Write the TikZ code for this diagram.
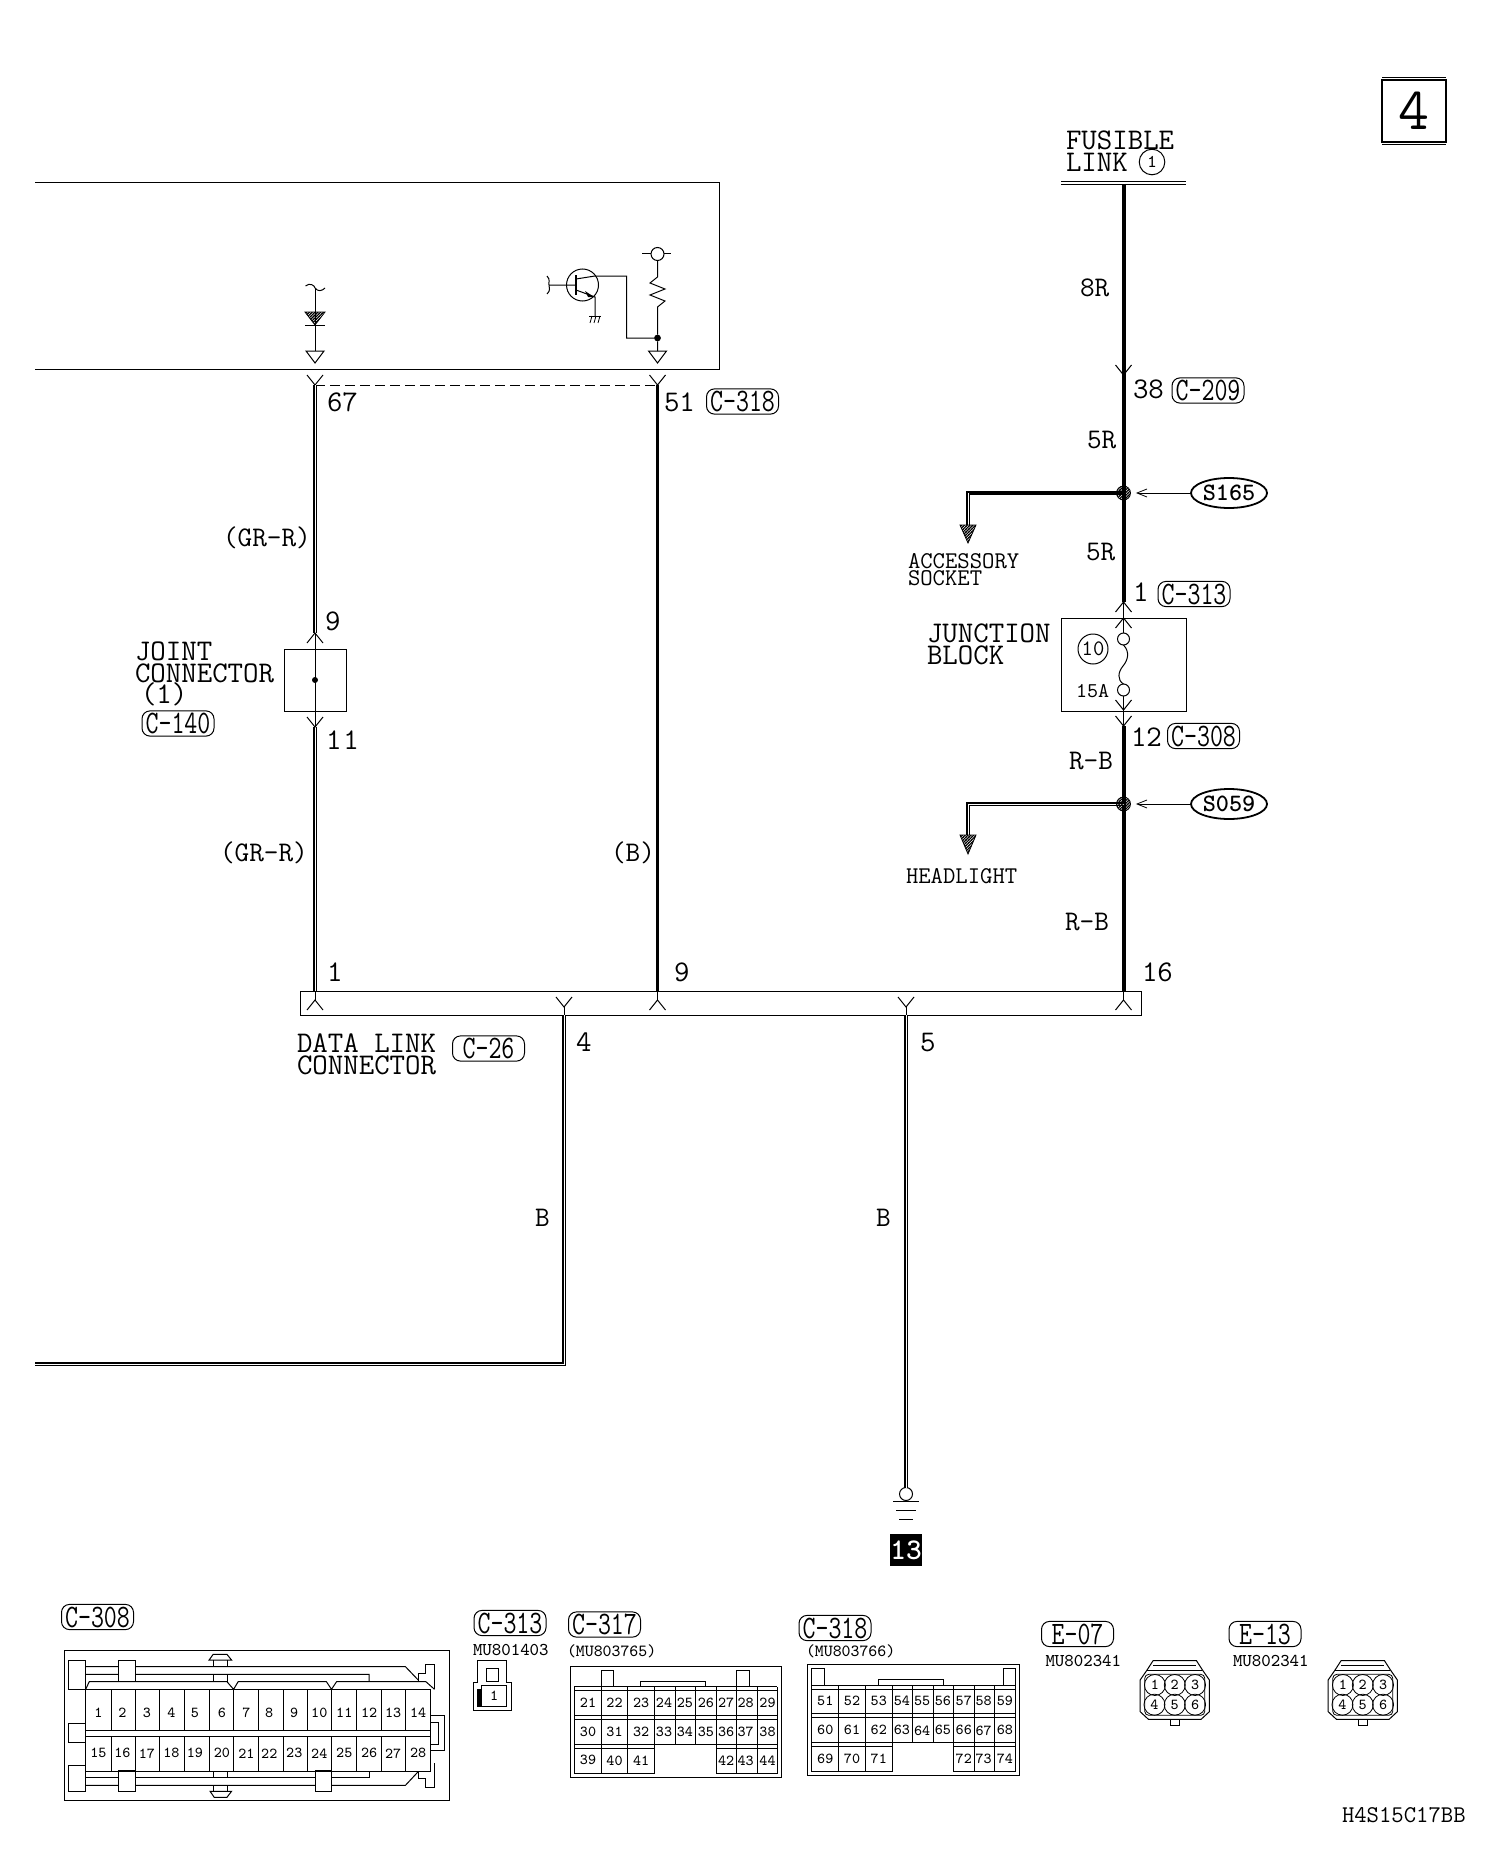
\documentclass[tikz,border=0pt]{standalone}
\usetikzlibrary{patterns,shapes.geometric}
\pgfdeclarepatternformonly{tight}{\pgfqpoint{-.5pt}{-.5pt}}{\pgfqpoint{2pt}{2pt}}{\pgfqpoint{1.4pt}{1.4pt}}{\pgfsetlinewidth{.55pt}\pgfpathmoveto{\pgfqpoint{-.2pt}{-.2pt}}\pgfpathlineto{\pgfqpoint{1.6pt}{1.6pt}}\pgfusepath{stroke}}
\tikzset{
  every node/.style={inner sep=0pt,outer sep=0pt},
  thinl/.style={line width=.5pt,line join=miter},
  fine/.style={line width=.4pt},
  wireR/.style={line width=2pt},
  wireB/.style={line width=1.9pt},
  wireD/.style={line width=.85pt,double=white,double distance=.3pt},
  txt/.style={anchor=base west,font=\ttfamily\fontsize{15}{15}\selectfont},
  wlab/.style={anchor=base west,font=\ttfamily\fontsize{14.2}{14}\selectfont},
  sm/.style={anchor=base west,font=\ttfamily\fontsize{12}{12}\selectfont},
  mu/.style={anchor=west,font=\ttfamily\fontsize{9}{9}\selectfont},
  pin/.style={font=\ttfamily\fontsize{7.6}{8}\selectfont},
  tag/.style={draw,line width=.5pt,rounded corners=4pt,minimum width=36pt,minimum height=12.6pt,font=\ttfamily\fontsize{12.6}{12}\selectfont},
  splice/.style={draw,ellipse,line width=.9pt,minimum width=38pt,minimum height=15pt,font=\ttfamily\bfseries\fontsize{12.5}{12}\selectfont},
  hatch/.style={draw,line width=.4pt,pattern=tight},
  roundpin/.style={draw,circle,fine,minimum size=10.5pt,font=\ttfamily\fontsize{7.6}{8}\selectfont},
}
\newcommand\tagn[4]{\node[tag] (#1) at (#2,#3) {\scalebox{1}[1.3]{#4}};}
\newcommand\vdn[2]{\draw[thinl] (#1-8,#2-10)--(#1,#2)--(#1+8,#2-10);}
\newcommand\vup[2]{\draw[thinl] (#1-8,#2+10)--(#1,#2)--(#1+8,#2+10);}
\newcommand\opentri[2]{\draw[thinl] (#1-9,#2)--(#1+9,#2)--(#1,#2+12)--cycle;}
\newcommand\ecn[3]{%
  \begin{scope}[shift={(#1,1560)},xscale=.4617,yscale=.3333]
    \draw[thinl] (780,360)--(795,330)--(808,302)--(902,302)--(915,330)--(930,360)--(930,455)--(912,478)--(798,478)--(780,455)--cycle;
    \draw[fine] (795,330)--(915,330) (808,315)--(902,315);
    \draw[fine,rounded corners=2pt] (790,343) rectangle (920,466);
    \draw[fine] (846,478) rectangle (864,497);
    \foreach \cx/\cy/\n in {812/375/1,855/375/2,899/375/3,811/434/4,855/434/5,899/434/6}
      \node[roundpin] (#3\n) at (\cx,\cy) {\n};
  \end{scope}}
\begin{document}
\begin{tikzpicture}[x=.5pt,y=-.5pt]
\useasboundingbox[fill=white] (0,0) rectangle (1504,1862);
% page number box
\node[draw,line width=1.1pt,minimum width=32pt,minimum height=31pt,font=\ttfamily\fontsize{30}{30}\selectfont] (pg) at (1414,111) {4};
\draw[fine] ([yshift=1.2pt]pg.north west)--([yshift=1.2pt]pg.north east) ([yshift=-1.2pt]pg.south west)--([yshift=-1.2pt]pg.south east);
% module box
\coordinate (mtl) at (35,183); \coordinate (mtr) at (719.5,183); \coordinate (mbr) at (719.5,369); \coordinate (mbl) at (35,369);
\draw[thinl] (mtl)--(mtr)--(mbr)--(mbl);
% diode branch
\coordinate (d0) at (315,288); \coordinate (d1) at (315,351);
\draw[thinl] (305.5,286) .. controls (310,282) and (315,286) .. (d0) .. controls (318,292) and (322,291) .. (325,288);
\draw[thinl] (d0)--(d1);
\draw[hatch] (305,312)--(325,312)--(315,325)--cycle;
\draw[thinl] (305,325)--(325,325);
\opentri{315}{351}
% resistor branch
\node[draw,circle,thinl,minimum size=6.5pt] (vc) at (657.5,254) {};
\draw[thinl] (642,254)--(vc.west) (vc.east)--(671,254);
\node[circle,fill=black,minimum size=3.4pt] (jd) at (657.5,338) {};
\coordinate (r0) at (657.5,277); \coordinate (r1) at (657.5,307); \coordinate (r2) at (657.5,351);
\draw[thinl] (vc.south)--(r0)--(650,283)--(665,289)--(650,295)--(665,301)--(r1)--(jd)--(r2);
\opentri{657.5}{351}
% transistor
\node[draw,circle,thinl,minimum size=16pt] (tr) at (582.5,285) {};
\coordinate (tc) at (595,276); \coordinate (te) at (595,297); \coordinate (tg) at (595,316);
\draw[line width=.8pt] (576,275)--(576,295);
\draw[thinl] (549,285)--(576,285) (547,276) .. controls (551,280) and (548,283) .. (549,285) .. controls (549,288) and (551,290) .. (547,294);
\draw[thinl] (576,279)--(tc)--(626.7,276)--(626.7,338)--(jd);
\draw[thinl] (576,290)--(te)--(tg);
\fill (594,297)--(585,291)--(588,297)--cycle;
\draw[thinl] (589,316)--(601,316);
\draw[fine] (592,316)--(590,323) (596,316)--(594,323) (600,316)--(598,323);
% top connectors and wires
\coordinate (a67) at (315,385); \coordinate (a51) at (657.5,385);
\vdn{315}{385}\vdn{657.5}{385}
\draw[thinl,dash pattern=on 5pt off 2.5pt] (a67)--(a51);
\coordinate (j9) at (315,633); \coordinate (j11) at (315,727); \coordinate (d1t) at (315,991); \coordinate (d9t) at (657.5,991);
\draw[wireD] (a67)--(j9);
\draw[wireD] (j11)--(d1t);
\draw[wireB] (a51)--(d9t);
\node[draw,thinl,minimum width=31.2pt,minimum height=31pt] (jc) at (315.5,680) {};
\node[circle,fill=black,minimum size=3pt] (jdot) at (315,680) {};
\draw[thinl] (j9)--(j11);
\vup{315}{633}\vdn{315}{727}
\node[txt] (t67) at (327,411) {67};
\node[txt] (t51) at (664,411) {51};
\tagn{c318}{742.5}{401.5}{C-318}
\node[wlab] (gr1) at (223,546) {(GR-R)};
\node[wlab] (gr2) at (220,861) {(GR-R)};
\node[wlab] (bb) at (611,861) {(B)};
\node[txt] (t9a) at (325,630) {9};
\node[txt] (t11) at (326,749) {1\hspace{1pt}1};
\node[txt] (tj1) at (135,660) {JOINT};
\node[txt] (tj2) at (135,682) {CONNECTOR};
\node[txt] (tj3) at (141,703) {(1)};
\tagn{c140}{178}{723.5}{C-140}
% data link connector
\node[draw,thinl,anchor=north west,minimum width=420.5pt,minimum height=12pt] (dlc) at (300,991) {};
\vup{315}{1000}\vup{657.5}{1000}\vup{1123.5}{1000}
\draw[thinl] (d1t)--(315,1000) (d9t)--(657.5,1000);
\coordinate (p4) at (564,1015); \coordinate (p5) at (906,1015);
\vdn{564}{1007}\vdn{906}{1007}
\draw[thinl] (564,1007)--(p4) (906,1007)--(p5);
\node[txt] (t1) at (327,981) {1};
\node[txt] (t9b) at (674,981) {9};
\node[txt] (t16) at (1142,981) {16};
\node[txt] (t4) at (576,1051) {4};
\node[txt] (t5) at (920,1051) {5};
\node[txt] (dl1) at (297,1052) {DATA LINK};
\node[txt] (dl2) at (297,1074) {CONNECTOR};
\tagn{c26}{488.5}{1048.5}{C-26}
% ground wires
\coordinate (bc) at (564,1364); \coordinate (bl) at (35,1364);
\draw[wireD] (p4)--(bc)--(bl);
\node[wlab] (b1) at (535,1226) {B};
\node[wlab] (b2) at (876,1226) {B};
\node[draw,circle,thinl,minimum size=6.5pt] (gc) at (906,1494) {};
\draw[wireD] (p5)--(gc.north);
\draw[thinl] (893,1501)--(919,1501) (896,1510)--(916,1510) (899,1519)--(913,1519);
\node[fill=black,minimum width=16pt,minimum height=16pt,text=white,font=\ttfamily\bfseries\fontsize{15}{15}\selectfont] (g13) at (906,1550) {13};
% right column
\coordinate (fl) at (1123.5,184);
\draw[thinl] (1061,182)--(1186,182) (1061,185)--(1186,185);
\node[txt] (f1) at (1066,150) {FUSIBLE};
\node[txt] (f2) at (1066,172) {LINK};
\node[draw,circle,thinl,minimum size=12.8pt,font=\ttfamily\fontsize{9}{9}\selectfont] (f3) at (1152,162) {1};
\coordinate (w1) at (1123.5,602); \coordinate (w2) at (1123.5,726); \coordinate (w3) at (1123.5,991);
\draw[wireR] (fl)--(w1);
\draw[wireR] (w2)--(w3);
\draw[thinl] (w3)--(1123.5,1000);
\vdn{1123.5}{375}
\node[wlab] (w8r) at (1080,296) {8R};
\node[txt] (t38) at (1133,398) {38};
\tagn{c209}{1208}{390.5}{C-209}
\node[wlab] (w5a) at (1087,448) {5R};
\node[wlab] (w5b) at (1086,560) {5R};
% S165
\coordinate (br1) at (968,493); \coordinate (ar1) at (968,525);
\draw[wireR,line cap=rect] (1123.5,493)--(br1);
\draw[wireD] (br1)--(ar1);
\draw[hatch] (960,525)--(976,525)--(968,543)--cycle;
\node[circle,draw,line width=.4pt,minimum size=7pt,fill=white,pattern=tight] (sp1) at (1123.5,493) {};
\node[splice] (s165) at (1229,493) {S165};
\draw[fine] (s165.west)--(1138,493);
\draw[fine] (1147,489)--(1137,493)--(1147,497);
\node[sm] (ac1) at (908,568) {ACCESSORY};
\node[sm] (ac2) at (908,585) {SOCKET};
% junction block
\node[txt] (t1b) at (1133,601) {1};
\tagn{c313}{1194}{594}{C-313}
\node[draw,thinl,minimum width=62.5pt,minimum height=46.5pt] (jb) at (1123.5,664.5) {};
\vup{1123.5}{602}\vup{1123.5}{618}
\node[draw,circle,thinl,minimum size=6pt] (f_a) at (1123.5,639) {};
\node[draw,circle,thinl,minimum size=6pt] (f_b) at (1123.5,690) {};
\draw[thinl] (w1)--(f_a.north) (f_b.south)--(w2);
\draw[thinl] (f_a.south) .. controls (1130,652) and (1128,660) .. (1123,666) .. controls (1118,672) and (1117,680) .. (f_b.north);
\vdn{1123.5}{710}\vdn{1123.5}{726}
\node[draw,circle,thinl,minimum size=15pt,font=\ttfamily\fontsize{11}{11}\selectfont] (f10) at (1093,649) {10};
\node[anchor=base west,font=\ttfamily\fontsize{10.5}{11}\selectfont] (t15) at (1076,697) {15A};
\node[txt] (jn1) at (927,642) {JUNCTION};
\node[txt] (jn2) at (927,664) {BLOCK};
\node[txt] (t12) at (1131,746) {12};
\tagn{c308}{1203.5}{736}{C-308}
\node[wlab] (rb1) at (1069,769) {R-B};
\node[wlab] (rb2) at (1065,930) {R-B};
% S059
\coordinate (br2) at (968,804); \coordinate (ar2) at (968,835);
\draw[wireD,line join=miter] (1123.5,804)--(br2)--(ar2);
\draw[hatch] (960,835)--(976,835)--(968,854)--cycle;
\node[circle,draw,line width=.4pt,minimum size=7pt,fill=white,pattern=tight] (sp2) at (1123.5,804) {};
\node[splice] (s059) at (1229,804) {S059};
\draw[fine] (s059.west)--(1138,804);
\draw[fine] (1147,800)--(1137,804)--(1147,808);
\node[sm] (hl) at (906,883) {HEADLIGHT};
% bottom connectors: C-308
\tagn{lc308}{97.5}{1617}{C-308}
\begin{scope}[shift={(0,1560)},xscale=.51,yscale=.3333]
  \draw[thinl] (127,271) rectangle (881,723);
  \draw[thinl] (135,301) rectangle (168,388) (135,490) rectangle (168,548) (135,616) rectangle (168,694)
    (232,301) rectangle (266,365) (232,632) rectangle (266,694) (618,632) rectangle (650,694);
  \draw[thinl] (168,320)--(232,320) (266,320)--(795,320)--(820,360) (168,343)--(232,343) (266,343)--(724,343)--(724,365);
  \draw[thinl] (168,388)--(175,365)--(445,365)--(458,388)--(467,365)--(640,365)--(650,388)--(660,365)--(835,365)--(852,388);
  \draw[thinl] (820,365)--(820,340)--(835,340)--(835,313)--(852,313)--(852,388);
  \draw[thinl] (418,320)--(418,300) (446,320)--(446,300) (418,343)--(418,365) (446,343)--(446,365);
  \draw[thinl] (410,300)--(454,300)--(445,283)--(418,283)--cycle;
  \draw[thinl] (168,388)--(845,388)--(845,635)--(168,635)--cycle;
  \draw[line width=.7pt] (168,512)--(845,512) (168,530)--(845,530);
  \foreach \c in {218,266,313,362,411,458,507,556,603,650,699,748,795}
    \draw[thinl] (\c,388)--(\c,512) (\c,530)--(\c,635);
  \draw[thinl] (845,466)--(871,466)--(871,572)--(845,572) (845,487)--(860,487)--(860,552)--(845,552);
  \draw[thinl] (168,653)--(232,653) (266,653)--(618,653) (650,653)--(724,653)--(724,635);
  \draw[thinl] (168,676)--(232,676) (266,676)--(618,676) (650,676)--(795,676)--(820,635);
  \draw[thinl] (418,635)--(418,653) (446,635)--(446,653) (418,676)--(418,694) (446,676)--(446,694);
  \draw[thinl] (412,694)--(454,694)--(445,712)--(420,712)--cycle;
  \draw[thinl] (820,635)--(820,655)--(835,655)--(835,683)--(852,683)--(852,610);
  \foreach \c [count=\i] in {193,240,288,336,382,435,483,528,577,626,675,724,771,820}{
    \pgfmathtruncatemacro\j{\i+14}
    \node[pin] (pa\i) at (\c,458) {\i};
    \node[pin] (pa\j) at (\c,580) {\j};
  }
  % C-313
  \draw[thinl] (937,367)--(937,302)--(993,302)--(993,367)--(1003,367)--(1003,450)--(928,450)--(928,367)--cycle;
  \draw[thinl] (953,324) rectangle (977,365) (945,377) rectangle (993,440);
  \fill (935,387) rectangle (945,440);
  \node[pin] (pb1) at (969,408) {1};
  % C-317
  \draw[thinl] (1118,319) rectangle (1532,652);
  \draw[thinl] (1179,380)--(1179,331)--(1202,331)--(1202,380) (1444,380)--(1444,331)--(1469,331)--(1469,380) (1256,380)--(1256,363)--(1383,363)--(1383,380);
  \draw[thinl] (1126,380)--(1524,380) (1126,391)--(1524,391) (1126,467)--(1524,467) (1126,478)--(1524,478) (1126,553)--(1524,553)
    (1126,565)--(1283,565) (1404,565)--(1524,565);
  \draw[thinl] (1126,380)--(1126,640)--(1283,640)--(1283,553) (1404,553)--(1404,640)--(1524,640)--(1524,380);
  \foreach \c in {1179,1230,1485,1444}
    \draw[thinl] (\c,380)--(\c,640);
  \foreach \c in {1283,1324,1364,1404}
    \draw[thinl] (\c,380)--(\c,553);
  \foreach \c/\a/\b in {1153/21/30,1205/22/31,1257/23/32,1302/24/33,1343/25/34,1384/26/35,1424/27/36,1462/28/37,1505/29/38}{
    \node[pin] (pc\a) at (\c,428) {\a};
    \node[pin] (pc\b) at (\c,515) {\b};
  }
  \foreach \c/\a in {1153/39,1205/40,1257/41,1424/42,1462/43,1505/44}
    \node[pin] (pc\a) at (\c,601) {\a};
\end{scope}
\tagn{lc313}{510}{1623}{C-313}
\node[mu] (mu1) at (473,1650) {MU801403};
\tagn{lc317}{604.5}{1624.5}{C-317}
\node[mu,font=\ttfamily\fontsize{8.5}{9}\selectfont] (mu2) at (567,1651) {(MU803765)};
% C-318
\tagn{lc318}{835}{1628}{C-318}
\node[mu,font=\ttfamily\fontsize{8.5}{9}\selectfont] (mu3) at (806,1651) {(MU803766)};
\begin{scope}[shift={(780,1560)},xscale=.4617,yscale=.3333]
  \draw[thinl] (59,313) rectangle (519,646);
  \draw[thinl] (69,375)--(69,325)--(96,325)--(96,375) (483,375)--(483,325)--(510,325)--(510,375) (213,375)--(213,358)--(354,358)--(354,375);
  \draw[thinl] (68,375)--(510,375) (68,387)--(510,387) (68,461)--(510,461) (68,473)--(510,473) (68,547)--(510,547)
    (68,559)--(244,559) (376,559)--(510,559);
  \draw[thinl] (68,375)--(68,634)--(244,634)--(244,547) (376,547)--(376,634)--(510,634)--(510,375);
  \foreach \c in {127,185,421,464}
    \draw[thinl] (\c,375)--(\c,634);
  \foreach \c in {244,287,332,376}
    \draw[thinl] (\c,375)--(\c,547);
  \foreach \c/\a/\b in {98/51/60,156/52/61,214/53/62,264/54/63,308/55/64,353/56/65,398/57/66,441/58/67,487/59/68}{
    \node[pin] (pd\a) at (\c,422) {\a};
    \node[pin] (pd\b) at (\c,511) {\b};
  }
  \foreach \c/\a in {98/69,156/70,214/71,398/72,441/73,487/74}
    \node[pin] (pd\a) at (\c,596) {\a};
\end{scope}
% E-07, E-13
\tagn{le07}{1077.5}{1634}{E-07}
\node[mu] (mu4) at (1045.5,1661) {MU802341};
\tagn{le13}{1265}{1634}{E-13}
\node[mu] (mu5) at (1233,1661) {MU802341};
\ecn{780}{}{ea}
\ecn{968}{}{eb}
\node[anchor=base west,font=\ttfamily\fontsize{12}{12}\selectfont] (code) at (1342,1822) {H4S15C17BB};
\end{tikzpicture}
\end{document}
